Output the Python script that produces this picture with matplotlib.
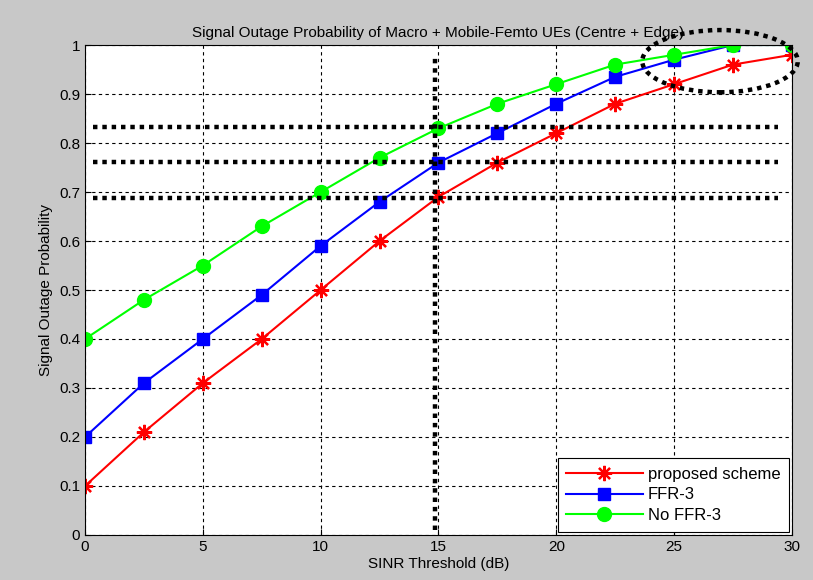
import numpy as np
import matplotlib.pyplot as plt
from matplotlib.patches import Ellipse

plt.rcParams['font.family'] = ['Liberation Sans', 'DejaVu Sans']

# SINR threshold (dB)
sinr = [0, 2.5, 5, 7.5, 10, 12.5, 15, 17.5, 20, 22.5, 25, 27.5, 30]

proposed = [0.10, 0.21, 0.31, 0.40, 0.50, 0.60, 0.69, 0.76, 0.82, 0.88, 0.92, 0.96, 0.98]
ffr3 = [0.20, 0.31, 0.40, 0.49, 0.59, 0.68, 0.76, 0.82, 0.88, 0.935, 0.97, 1.00, 1.00]
no_ffr3 = [0.40, 0.48, 0.55, 0.63, 0.70, 0.77, 0.83, 0.88, 0.92, 0.96, 0.98, 1.00, 1.00]

# annotation guides
h_levels = [0.833, 0.762, 0.688]
v_level = 14.85

fig = plt.figure(figsize=(8.13, 5.8), dpi=100, facecolor='#c8c8c8')
ax = fig.add_axes([0.1046, 0.0776, 0.8694, 0.8448])

ax.plot(sinr, proposed, color='red', lw=1.5, marker=(8, 2, 0), ms=11, mew=1.6,
        label='proposed scheme')
ax.plot(sinr, ffr3, color='blue', lw=1.5, marker='s', ms=9, label='FFR-3')
ax.plot(sinr, no_ffr3, color='#00ff00', lw=1.5, marker='o', ms=10, label='No FFR-3')

# thick dotted guides
dots = dict(color='black', lw=3.2, linestyle=(0, (1, 1.1)), dash_capstyle='butt', zorder=5)
for y in h_levels:
    ax.plot([0.35, 29.4], [y, y], **dots)
ax.plot([v_level, v_level], [0.01, 0.975], **dots)

ell = Ellipse((26.95, 0.967), 6.6, 0.127, fill=False, edgecolor='black', lw=3.2,
              linestyle=(0, (1, 1.1)), clip_on=False, zorder=6)
ax.add_patch(ell)

ax.set_xlim(0, 30)
ax.set_ylim(0, 1)
ax.set_xticks(np.arange(0, 31, 5))
ax.set_yticks(np.arange(0, 1.01, 0.1))
ax.set_yticklabels(['0', '0.1', '0.2', '0.3', '0.4', '0.5', '0.6', '0.7', '0.8', '0.9', '1'])
ax.grid(True, color='black', linestyle=(0, (3, 3)), lw=0.8)
ax.tick_params(direction='in', labelsize=11, length=4)
for s in ax.spines.values():
    s.set_linewidth(0.8)

ax.set_title('Signal Outage Probability of Macro + Mobile-Femto UEs (Centre + Edge)', fontsize=11, pad=6)
ax.set_xlabel('SINR Threshold (dB)', fontsize=11, labelpad=2)
ax.set_ylabel('Signal Outage Probability', fontsize=11)

leg = ax.legend(loc='lower right', fontsize=12, fancybox=False, framealpha=1,
                edgecolor='black', borderaxespad=0.2, handlelength=4.6,
                labelspacing=0.35, borderpad=0.5, handletextpad=0.3)
leg.get_frame().set_linewidth(0.8)

fig.savefig('out.png', dpi=100, facecolor=fig.get_facecolor())
